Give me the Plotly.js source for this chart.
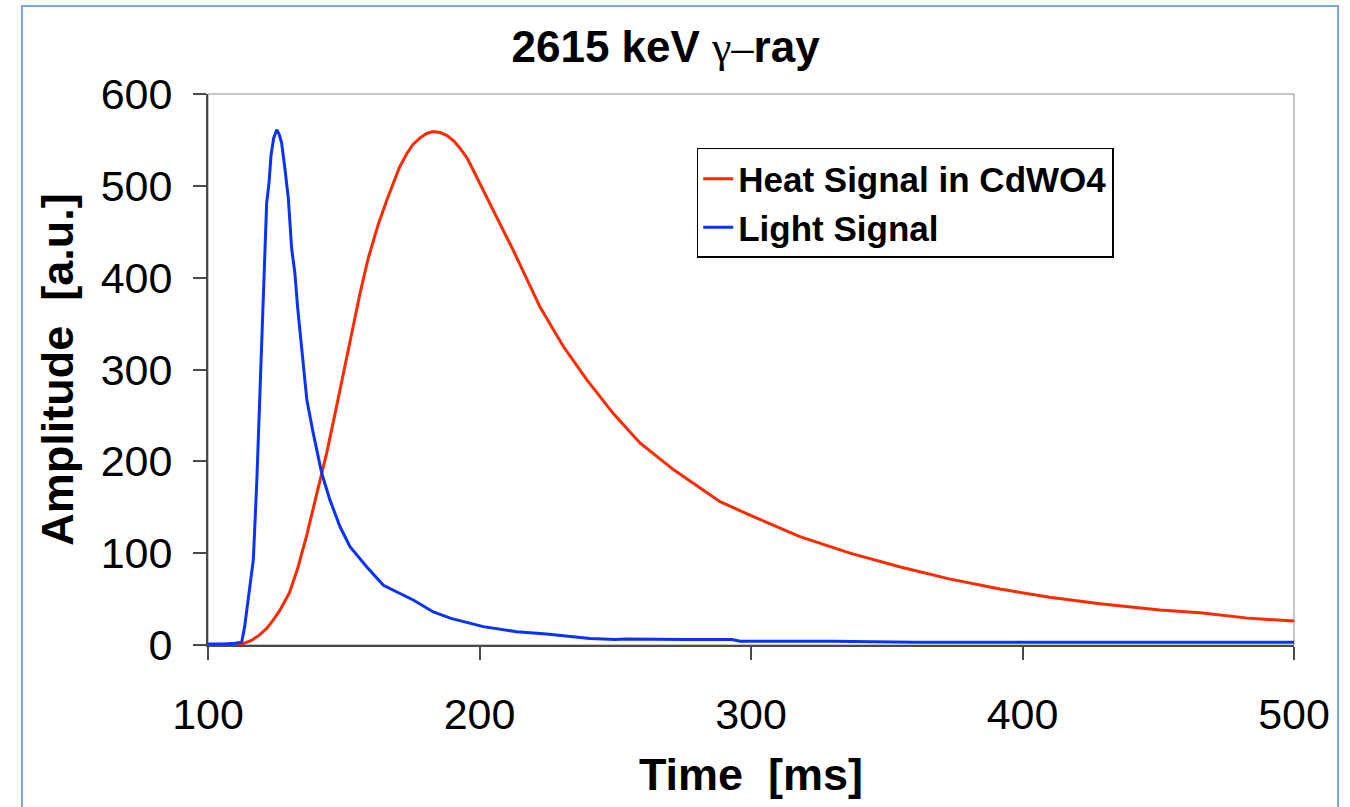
<!DOCTYPE html>
<html>
<head>
<meta charset="utf-8">
<script src="https://cdn.plot.ly/plotly-3.0.1.min.js"></script>
<style>
  html, body { margin: 0; padding: 0; background: #ffffff; overflow: hidden; }
  #chart { position: absolute; left: 0; top: 0; width: 1350px; height: 807px; }
  #frame { position: absolute; left: 21px; top: 5px; width: 1314px; height: 900px;
           border: 2px solid #7ba6d8; pointer-events: none; }
</style>
</head>
<body>
<div id="chart"></div>
<div id="frame"></div>
<script>
// ---- Data ----
const heatTime = [100, 105, 110, 112.5, 116, 119, 121.6, 124, 126.5, 130, 133, 136.4, 140, 143.7,
  146.8, 149.8, 152.9, 156, 159, 162.7, 165.8, 168.3, 170.5, 173.2, 175.5, 178, 180.5, 183,
  185.5, 187.9, 190.5, 192.8, 195.5, 197.7, 200, 202.6, 206.3, 212.4, 217, 222.3, 230.9,
  239.5, 249.3, 259.1, 271.4, 288.6, 300, 318, 336.5, 355, 373, 391.7, 410, 428.5, 450.6,
  465.4, 483.8, 500];
const heatAmp = [0, 0, 0, 1, 5, 11, 18, 27, 38, 57, 83, 120, 165, 209,
  252, 296, 339, 383, 421, 458, 484, 503, 520, 535, 545, 552, 557, 559,
  558, 555, 549, 541, 530, 517, 503, 487, 466, 430, 402, 368, 325,
  289, 252, 220, 191, 156, 141, 118, 100, 85, 72, 61, 52, 45, 38,
  35, 29, 26];

const lightTime = [100, 106, 110, 112.4, 113.5, 114.8, 116.7, 118, 119, 120, 120.4, 121, 121.6,
  122.5, 123.2, 124.2, 125.3, 126.2, 127.1, 128.4, 129.6, 130.8, 132, 133, 134.4, 136.4,
  138.8, 141.9, 144.9, 148.6, 152.3, 158.5, 164.6, 170.7, 175.6, 183, 189.5, 201.4, 213.7,
  224.7, 240.7, 250, 254, 275, 293, 296, 330, 360, 400, 430, 460, 500];
const lightAmp = [1, 1, 2, 3, 20, 49, 93, 180, 265, 340, 376, 439, 481,
  504, 533, 552, 561, 556, 547, 517, 486, 432, 405, 368, 328, 267,
  230, 187, 158, 129, 107, 85, 65, 56, 49, 36, 29, 20, 14.5,
  12, 7, 6, 6.5, 6, 6, 4, 4, 3, 3, 3, 3, 3];

const xTicks = [100, 200, 300, 400, 500];
const yTicks = [0, 100, 200, 300, 400, 500, 600];
const seriesNames = ["Heat Signal in CdWO4", "Light Signal"];
const titleText = '2615 keV <span style="font-family:\'Liberation Serif\',\'DejaVu Serif\',serif;font-weight:normal">γ–</span>ray';
const xTitle = "Time\u00a0\u00a0[ms]";
const yTitle = "Amplitude\u00a0\u00a0[a.u.]";

// ---- Chart ----
const FONT = "'Liberation Sans', Arial, sans-serif";

const traces = [
  { x: heatTime, y: heatAmp, name: seriesNames[0], type: "scatter", mode: "lines",
    legendgroup: "a", line: { color: "#ff2a00", width: 3 } },
  { x: lightTime, y: lightAmp, name: seriesNames[1], type: "scatter", mode: "lines",
    legendgroup: "b", line: { color: "#0a32ff", width: 3 } }
];

const axisCommon = {
  showgrid: false, zeroline: false, showline: true, linecolor: "#4a4a4a", linewidth: 2,
  ticks: "outside", ticklen: 13, tickwidth: 2, tickcolor: "#4a4a4a",
  tickfont: { family: FONT, size: 43, color: "#000" }
};

const layout = {
  width: 1350, height: 807,
  paper_bgcolor: "#ffffff", plot_bgcolor: "#ffffff",
  margin: { l: 208, r: 56, t: 94, b: 162 },
  showlegend: true,
  title: { text: titleText, font: { family: FONT, size: 44, weight: "bold", color: "#000" },
           x: 0.493, xref: "container", xanchor: "center", y: 0.942, yref: "container", yanchor: "middle" },
  xaxis: Object.assign({}, axisCommon, {
    range: [100, 500], tickvals: xTicks, ticktext: xTicks.map(String),
    ticklabelstandoff: 17,
    title: { text: xTitle, font: { family: FONT, size: 45, weight: "bold", color: "#000" }, standoff: 22 }
  }),
  yaxis: Object.assign({}, axisCommon, {
    range: [0, 600], tickvals: yTicks, ticktext: yTicks.map(String),
    ticklabelstandoff: 12,
    title: { text: yTitle, font: { family: FONT, size: 45, weight: "bold", color: "#000" }, standoff: 13 }
  }),
  legend: {
    x: 0.45, y: 0.902, xanchor: "left", yanchor: "top",
    bgcolor: "#ffffff", bordercolor: "#000000", borderwidth: 1.5,
    font: { family: FONT, size: 35, weight: "bold", color: "#000" },
    tracegroupgap: 0, traceorder: "grouped", itemwidth: 30
  },
  shapes: [
    { type: "rect", xref: "paper", yref: "paper", x0: 0, x1: 1, y0: 0, y1: 1,
      line: { color: "#8c8c8c", width: 1 }, layer: "below" }
  ]
};

Plotly.newPlot("chart", traces, layout, { displayModeBar: false, staticPlot: true });
</script>
</body>
</html>
